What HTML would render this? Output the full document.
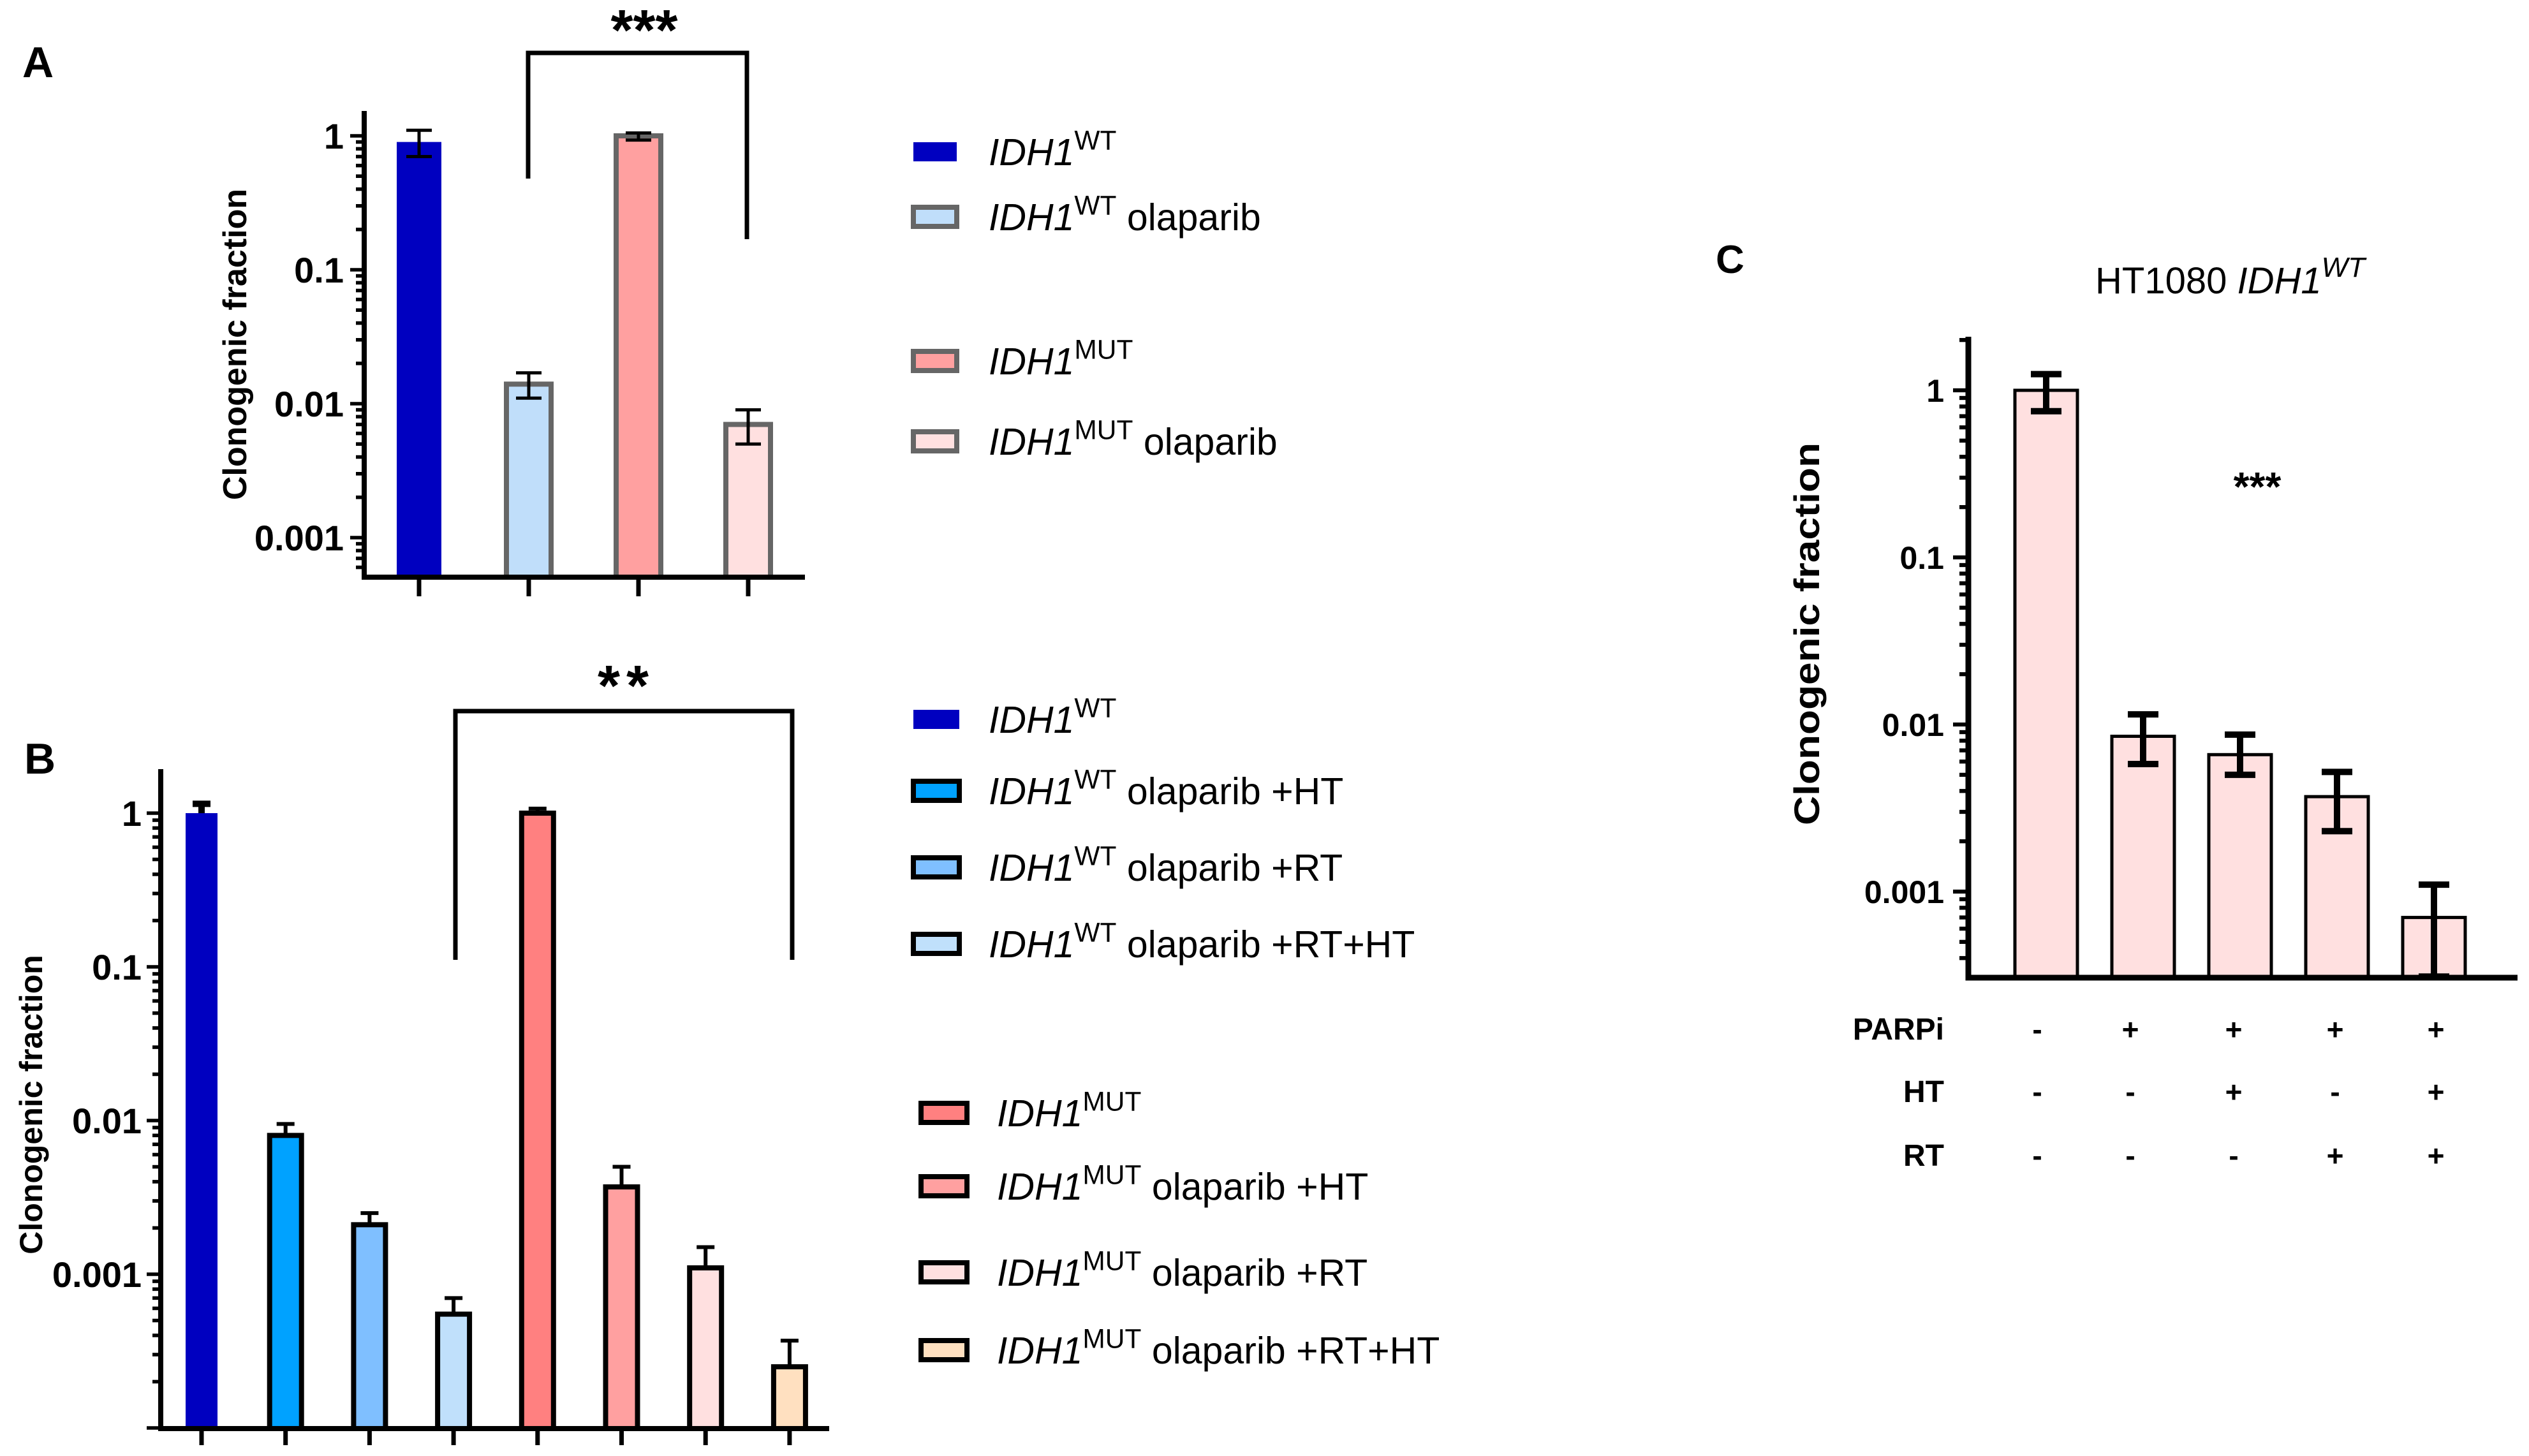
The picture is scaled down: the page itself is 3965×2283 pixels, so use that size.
<!DOCTYPE html>
<html><head><meta charset="utf-8"><style>
html,body{margin:0;padding:0;background:#fff;}
svg{display:block;}
text{font-family:"Liberation Sans",sans-serif;}
</style></head><body>
<svg id="fig" width="3965" height="2283" viewBox="0 0 3965 2283" xmlns="http://www.w3.org/2000/svg">
<g id="gA"></g>
<g id="gB"></g>
<g id="gC"></g>
</svg>
<script>
// Panel A data
const catsA = ["IDH1 WT","IDH1 WT olaparib","IDH1 MUT","IDH1 MUT olaparib"];
const valsA = [0.9, 0.014, 1.0, 0.007];
const loA = [0.7, 0.011, 0.93, 0.005];
const hiA = [1.1, 0.017, 1.05, 0.009];
const ticksA = ["1","0.1","0.01","0.001"];
// Panel B data
const catsB = ["WT","WT olaparib +HT","WT olaparib +RT","WT olaparib +RT+HT","MUT","MUT olaparib +HT","MUT olaparib +RT","MUT olaparib +RT+HT"];
const valsB = [1.0, 0.008, 0.0021, 0.00055, 1.0, 0.0037, 0.0011, 0.00025];
const hiB = [1.15, 0.0095, 0.0025, 0.0007, 1.07, 0.005, 0.0015, 0.00037];
const ticksB = ["1","0.1","0.01","0.001"];
// Panel C data
const catsC = ["control","PARPi","PARPi+HT","PARPi+RT","PARPi+HT+RT"];
const valsC = [1.0, 0.0085, 0.0066, 0.0037, 0.0007];
const loC = [0.75, 0.0058, 0.005, 0.0023, 0.00031];
const hiC = [1.25, 0.0115, 0.0087, 0.0052, 0.0011];
const ticksC = ["1","0.1","0.01","0.001"];
const parpi = ["-","+","+","+","+"];
const ht = ["-","-","+","-","+"];
const rt = ["-","-","-","+","+"];

const NS="http://www.w3.org/2000/svg";
function mk(parent,tag,attrs,txt){const e=document.createElementNS(NS,tag);for(const k in attrs)e.setAttribute(k,attrs[k]);if(txt!==undefined)e.textContent=txt;parent.appendChild(e);return e;}
function logScale(yOne,decade){return v=>yOne-Math.log10(v)*decade;}

function logAxis(g,x,yTop,yBot,yS,labels,font,fs,lblRight,lw,majLen,minLen){
  let l=mk(g,'line',{x1:x,y1:yTop,x2:x,y2:yBot+lw/2,stroke:'#000','stroke-width':lw});
  
  for(let d=1;d>=-4;d--){
    for(let m=1;m<10;m++){
      const v=m*Math.pow(10,d-1);
      const yy=yS(v);
      if(yy<yTop||yy>yBot)continue;
      const len=(m===1)?majLen:minLen;
      const t=mk(g,'line',{x1:x-len,y1:yy,x2:x,y2:yy,stroke:'#000','stroke-width':lw*0.7});
      
    }
  }
  labels.forEach(s=>{
    const yy=yS(parseFloat(s));
    const t=mk(g,'text',{x:lblRight,y:yy+fs*0.36,'text-anchor':'end','font-size':fs,'font-weight':'bold','font-family':font},s);
    
  });
}
function legendItem(g,x,y,w,h,fill,stroke,sw,tx,sup,rest,fs){
  const r=mk(g,'rect',{x:x,y:y-h/2,width:w,height:h,fill:fill,stroke:stroke,'stroke-width':sw});
  
  const t=mk(g,'text',{x:tx,y:y+fs*0.36,'font-size':fs});
  
  mk(t,'tspan',{'font-style':'italic'},'IDH1');
  mk(t,'tspan',{'font-size':fs*0.72,dy:-fs*0.42},sup);
  if(rest)mk(t,'tspan',{dy:fs*0.42},' '+rest);
}

// ---------- Panel A ----------
(function(){
  const g=document.getElementById('gA');
  const yS=logScale(213,210);
  const xs=i=>657+i*172;
  const bw=70;
  const fills=['#0000c0','#c0defa','#ffa0a0','#ffe0e0'];
  const strokes=['none','#666','#666','#666'];
  valsA.forEach((v,i)=>{
    const y0=yS(v),yb=905;
    const b=mk(g,'rect',{x:xs(i)-bw/2,y:y0,width:bw,height:yb-y0,fill:fills[i],stroke:strokes[i],'stroke-width':8});
    
    const e=mk(g,'path',{d:`M${xs(i)} ${yS(hiA[i])}V${yS(loA[i])}M${xs(i)-20} ${yS(hiA[i])}h40M${xs(i)-20} ${yS(loA[i])}h40`,stroke:'#000','stroke-width':5,fill:'none'});
    
    const t=mk(g,'line',{x1:xs(i),y1:905,x2:xs(i),y2:935,stroke:'#000','stroke-width':7});
    
  });
  logAxis(g,571,174,905,yS,ticksA,'"Liberation Sans Narrow","Liberation Sans",sans-serif',56,539,8,22,13);
  const xa=mk(g,'line',{x1:567,y1:905,x2:1262,y2:905,stroke:'#000','stroke-width':8});
  
  const yt=mk(g,'text',{transform:'translate(386,540) rotate(-90)','text-anchor':'middle','font-size':52,'font-weight':'bold'},'Clonogenic fraction');
  
  const br=mk(g,'path',{d:'M828 280V83H1171V375',fill:'none',stroke:'#000','stroke-width':7});
  
  const st=mk(g,'text',{x:1010,y:78,'text-anchor':'middle','font-size':90,'font-weight':'bold'},'***');
  
  const lb=mk(g,'text',{x:35,y:121,'font-size':68,'font-weight':'bold'},'A');
  
  const ly=[238,340,566,692];
  const sups=['WT','WT','MUT','MUT'];const rests=['','olaparib','','olaparib'];
  ly.forEach((y,i)=>legendItem(g,1432,y,68,30,fills[i],i===0?'none':'#666',i===0?0:8,1550,sups[i],rests[i],59));
})();

// ---------- Panel B ----------
(function(){
  const g=document.getElementById('gB');
  const yS=logScale(1275,241);
  const xs=i=>316+i*131.7;
  const bw=50;
  const fills=['#0000c0','#00a2ff','#7fbfff','#c0e0fb','#ff8080','#ffa0a0','#ffe0e0','#ffe0c0'];
  valsB.forEach((v,i)=>{
    const y0=yS(v),yb=2240;
    const b=mk(g,'rect',{x:xs(i)-bw/2,y:y0,width:bw,height:yb-y0,fill:fills[i],stroke:i===0?'none':'#000','stroke-width':8});
    
    const e=mk(g,'path',{d:`M${xs(i)} ${yS(hiB[i])}V${y0}M${xs(i)-14} ${yS(hiB[i])}h28`,stroke:'#000','stroke-width':i===0?10:6,fill:'none'});
    
    const t=mk(g,'line',{x1:xs(i),y1:2240,x2:xs(i),y2:2266,stroke:'#000','stroke-width':7});
    
  });
  logAxis(g,252,1206,2240,yS,ticksB,'"Liberation Sans Narrow","Liberation Sans",sans-serif',56,222,8,22,13);
  const xa=mk(g,'line',{x1:248,y1:2240,x2:1300,y2:2240,stroke:'#000','stroke-width':8});
  
  const yt=mk(g,'text',{transform:'translate(66,1732) rotate(-90)','text-anchor':'middle','font-size':50,'font-weight':'bold'},'Clonogenic fraction');
  
  const br=mk(g,'path',{d:'M714 1505V1115H1242V1505',fill:'none',stroke:'#000','stroke-width':7});
  
  const st=mk(g,'text',{x:982,y:1106,'text-anchor':'middle','font-size':90,'font-weight':'bold','letter-spacing':10},'**');
  
  const lb=mk(g,'text',{x:38,y:1213,'font-size':68,'font-weight':'bold'},'B');
  
  const ly=[1128,1240,1360,1480,1745,1860,1995,2117];
  const sups=['WT','WT','WT','WT','MUT','MUT','MUT','MUT'];
  const rests=['','olaparib +HT','olaparib +RT','olaparib +RT+HT','','olaparib +HT','olaparib +RT','olaparib +RT+HT'];
  ly.forEach((y,i)=>legendItem(g,i<4?1432:1444,y,72,30,fills[i],i===0?'none':'#000',i===0?0:8,i<4?1550:1563,sups[i],rests[i],59));
})();

// ---------- Panel C ----------
(function(){
  const g=document.getElementById('gC');
  const yS=logScale(612,262);
  const xs=i=>3208+i*152;
  const bw=98;
  const signOff=[-14,-20,-10,-3,3];
  valsC.forEach((v,i)=>{
    const y0=yS(v),yb=1533;
    const b=mk(g,'rect',{x:xs(i)-bw/2,y:y0,width:bw,height:yb-y0,fill:'#ffe0e0',stroke:'#000','stroke-width':5});
    
    const e=mk(g,'path',{d:`M${xs(i)} ${yS(hiC[i])}V${yS(loC[i])}M${xs(i)-24} ${yS(hiC[i])}h48M${xs(i)-24} ${yS(loC[i])}h48`,stroke:'#000','stroke-width':10,fill:'none'});
    
    [[parpi,1630],[ht,1728],[rt,1828]].forEach(([arr,y])=>{
      const t=mk(g,'text',{x:xs(i)+signOff[i],y:y,'text-anchor':'middle','font-size':46,'font-weight':'bold','font-family':'"DejaVu Sans",sans-serif'},arr[i]);
      
    });
  });
  logAxis(g,3086,528,1533,yS,ticksC,'"DejaVu Sans",sans-serif',50,3048,9,24,14);
  const xa=mk(g,'line',{x1:3082,y1:1533,x2:3947,y2:1533,stroke:'#000','stroke-width':9});
  
  const yt=mk(g,'text',{transform:'translate(2852,994) rotate(-90)','text-anchor':'middle','font-size':56,'font-weight':'bold',textLength:600,lengthAdjust:'spacingAndGlyphs'},'Clonogenic fraction');
  
  [['PARPi',1630],['HT',1728],['RT',1828]].forEach(([s,y])=>{
    const t=mk(g,'text',{x:3048,y:y,'text-anchor':'end','font-size':48,'font-weight':'bold','font-family':'"DejaVu Sans",sans-serif'},s);
    
  });
  const st=mk(g,'text',{x:3539,y:785,'text-anchor':'middle','font-size':64,'font-weight':'bold','font-family':'"DejaVu Sans",sans-serif'},'***');
  
  const ti=mk(g,'text',{x:3285,y:460,'font-size':58});
  
  mk(ti,'tspan',{},'HT1080 ');
  mk(ti,'tspan',{'font-style':'italic'},'IDH1');
  mk(ti,'tspan',{'font-style':'italic','font-size':44,dy:-26},'WT');
  const lb=mk(g,'text',{x:2690,y:428,'font-size':62,'font-weight':'bold'},'C');
  
})();
</script>
</body></html>
